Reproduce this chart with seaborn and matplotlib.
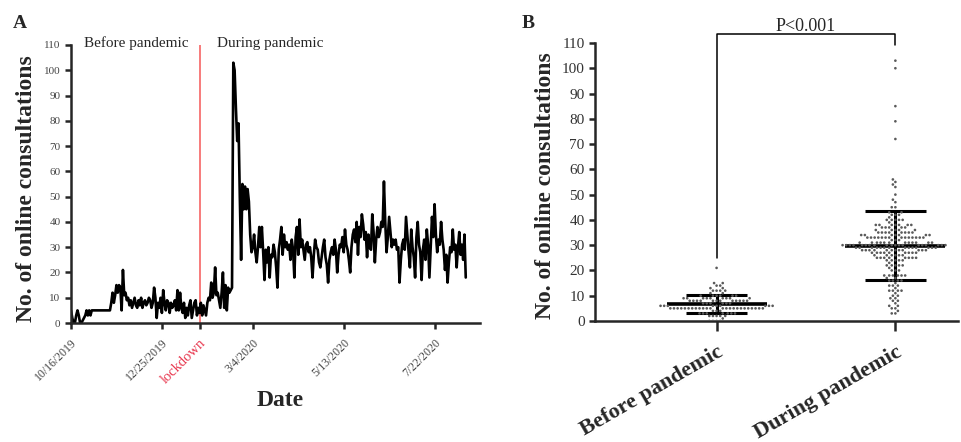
import numpy as np
import pandas as pd
import matplotlib
matplotlib.use("Agg")
import matplotlib.pyplot as plt
import matplotlib.dates as mdates
import seaborn as sns

start_date = "2019-10-16"
lockdown_date = "2020-01-23"
tick_dates = ["2019-10-16", "2019-12-25", "2020-01-23", "2020-03-04", "2020-05-13", "2020-07-22"]
tick_labels = ["10/16/2019", "12/25/2019", "lockdown", "3/4/2020", "5/13/2020", "7/22/2020"]
groups = ["Before pandemic", "During pandemic"]

# daily consultations
oct_nov = [5, 2, 0, 0, 3, 5, 3, 0, 0, 1, 2, 3, 5, 3, 5, 3, 5, 5, 5, 5,
           5, 5, 5, 5, 5, 5, 5, 5, 5, 5, 5]
nov_jan = [8, 12, 8, 11, 15, 12, 15, 14, 5, 21,
           11, 12, 9, 10, 7, 9, 6, 8, 10, 7,
           6, 9, 7, 10, 6, 8, 9, 7, 8, 10,
           9, 6, 8, 14, 10, 2, 8, 6, 10, 4,
           13, 8, 5, 9, 8, 4, 8, 6, 7, 9,
           5, 13, 5, 12, 6, 4, 8, 2, 6, 3,
           7, 9, 2, 5, 8, 9, 3, 6]
after_lockdown = [4, 8, 3, 7, 5, 3, 8, 10, 9, 16, 10, 12, 22, 11, 12,
                  9, 6, 12, 20, 6, 15, 5, 14, 12, 13]
outbreak_peak = [14, 103, 100, 85, 72, 79, 50, 25, 55, 45, 54, 45, 53, 48,
                 35, 28, 30, 35, 28, 24, 30, 38]
mar_aug = [30, 38, 28, 17, 29, 24, 30, 18, 27, 26,
           31, 28, 22, 14, 29, 33, 38, 27, 35, 30,
           32, 29, 31, 25, 33, 29, 18, 34, 38, 27,
           41, 30, 33, 29, 25, 31, 32, 28, 30, 26,
           18, 27, 33, 30, 29, 24, 22, 26, 30, 33,
           26, 23, 16, 25, 28, 30, 27, 33, 29, 20,
           27, 31, 30, 34, 28, 37, 31, 29, 25, 20,
           30, 35, 37, 32, 40, 27, 38, 34, 43, 39,
           33, 36, 26, 35, 30, 29, 43, 36, 24, 33,
           38, 34, 36, 40, 38, 56, 40, 28, 34, 42,
           36, 30, 33, 31, 33, 29, 30, 16, 25, 31,
           33, 29, 42, 35, 28, 22, 37, 30, 26, 18,
           34, 40, 31, 28, 17, 29, 33, 25, 37, 31,
           18, 30, 42, 34, 47, 35, 28, 33, 31, 40,
           33, 29, 21, 27, 16, 24, 30, 28, 37, 29,
           31, 22, 30, 36, 27, 31, 25, 35, 18]

counts = oct_nov + nov_jan + after_lockdown + outbreak_peak + mar_aug
dates = pd.date_range(start_date, periods=len(counts), freq="D")
df = pd.DataFrame({"date": dates, "count": counts})
df["period"] = np.where(df["date"] < pd.Timestamp(lockdown_date), groups[0], groups[1])

sns.set_style("ticks")
plt.rcParams["font.family"] = ["Liberation Serif", "DejaVu Serif"]

fig = plt.figure(figsize=(9.62, 4.42), dpi=100)
axA = fig.add_axes([0.0738, 0.2692, 0.4252, 0.629])
axB = fig.add_axes([0.6185, 0.2738, 0.3773, 0.629])

# ---- panel A: time series ----
sns.lineplot(data=df, x="date", y="count", ax=axA, color="black", linewidth=1.9)
axA.axvline(pd.Timestamp(lockdown_date), color="#f77b7b", lw=1.4, zorder=1)
axA.set_xlim(pd.Timestamp(start_date), pd.Timestamp(start_date) + pd.Timedelta(days=315))
axA.set_ylim(0, 110)
axA.set_yticks(range(0, 111, 10))
axA.set_xticks([mdates.date2num(pd.Timestamp(d)) for d in tick_dates])
axA.set_xticklabels(tick_labels, rotation=45, ha="right", rotation_mode="anchor")
axA.tick_params(axis="both", width=1.8, length=4, labelsize=8, labelcolor="#444444")
axA.tick_params(axis="x", labelsize=8.5, pad=6)
for lab in axA.get_xticklabels():
    if lab.get_text() == "lockdown":
        lab.set_color("#e8384f")
        lab.set_fontsize(10.5)
axA.set_xlabel("Date", fontsize=17, fontweight="bold")
axA.set_ylabel("No. of online consultations", fontsize=17, fontweight="bold")
axA.xaxis.set_label_coords(0.511, -0.241)
axA.yaxis.set_label_coords(-0.084, 0.482)
axA.text(0.16, 1.007, "Before pandemic", transform=axA.transAxes, ha="center", va="center", fontsize=11)
axA.text(0.487, 1.007, "During pandemic", transform=axA.transAxes, ha="center", va="center", fontsize=11)

# ---- panel B: dot plot with mean and SD ----
sns.swarmplot(data=df, x="period", y="count", order=groups, color="#5a5a5a", size=1.9,
              linewidth=0.6, edgecolor="none", ax=axB, zorder=3)
stats = df.groupby("period")["count"].agg(["mean", "std"]).loc[groups]
for i, (m, s) in enumerate(zip(stats["mean"], stats["std"])):
    axB.hlines(m, i - 0.28, i + 0.28, color="black", lw=2.6, zorder=2)
    axB.hlines([m - s, m + s], i - 0.17, i + 0.17, color="black", lw=2.2, zorder=2)
    axB.vlines(i, m - s, m + s, color="black", lw=2.2, zorder=2)

axB.plot([0, 0, 1, 1], [25, 113.5, 113.5, 109], color="black", lw=1.1, clip_on=False)
axB.text(0.5, 113.2, "P<0.001", ha="center", va="bottom", fontsize=13)
axB.set_xlim(-0.68, 1.35)
axB.set_ylim(0, 110)
axB.set_yticks(range(0, 111, 10))
axB.set_xticks([0, 1])
axB.set_xticklabels(groups, rotation=30, ha="right", rotation_mode="anchor",
                    fontsize=16, fontweight="bold")
axB.tick_params(axis="y", width=1.8, length=4, labelsize=11, labelcolor="#333333")
axB.tick_params(axis="x", width=1.8, length=7, pad=8)
axB.set_xlabel("")
axB.set_ylabel("No. of online consultations", fontsize=17, fontweight="bold")
axB.yaxis.set_label_coords(-0.107, 0.486)

for ax in (axA, axB):
    sns.despine(ax=ax)
    for side in ("left", "bottom"):
        ax.spines[side].set_linewidth(1.8)

fig.text(0.0135, 0.937, "A", fontsize=14, fontweight="bold")
fig.text(0.5426, 0.937, "B", fontsize=14, fontweight="bold")

fig.savefig("out.png", dpi=100)
